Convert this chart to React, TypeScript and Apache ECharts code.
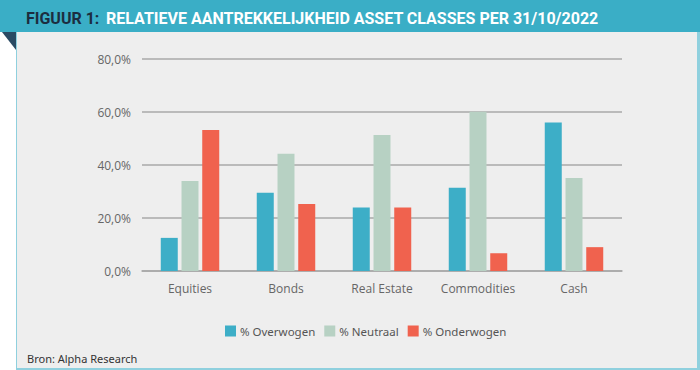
import React, { useEffect, useRef } from "react";
import * as echarts from "echarts";

const categories = ["Equities", "Bonds", "Real Estate", "Commodities", "Cash"];
const seriesNames = ["% Overwogen", "% Neutraal", "% Onderwogen"];
const overwogen = [12.5, 29.5, 24.0, 31.4, 56.0];
const neutraal = [34.0, 44.2, 51.3, 60.1, 35.1];
const onderwogen = [53.2, 25.3, 24.0, 6.7, 9.0];
const colors = ["#3daec7", "#b7d1c3", "#f0624e"];

export default function App() {
  const ref = useRef<HTMLDivElement>(null);
  useEffect(() => {
    if (!ref.current) return;
    const chart = echarts.init(ref.current, undefined, { renderer: "svg" });
    const mk = (name: string, data: number[], color: string) => ({
      name,
      type: "bar",
      data,
      barWidth: 17,
      barGap: "22%",
      itemStyle: { color },
    });
    chart.setOption({
      animation: false,
      backgroundColor: "#ffffff",
      graphic: [
        { type: "rect", shape: { x: 16, y: 32, width: 684, height: 338 }, style: { fill: "#8fd0de" }, z: -10 },
        { type: "rect", shape: { x: 17, y: 32, width: 680, height: 336 }, style: { fill: "#eeeeee" }, z: -9 },
        { type: "rect", shape: { x: 0, y: 0, width: 700, height: 32 }, style: { fill: "#3aaec6" }, z: -8 },
        { type: "polygon", shape: { points: [[2, 32], [16, 32], [16, 50]] }, style: { fill: "#2a4a63" }, z: -8 },
        {
          type: "text",
          x: 26,
          y: 18,
          style: {
            text: "{a|FIGUUR 1:}  {b|RELATIEVE AANTREKKELIJKHEID ASSET CLASSES PER 31/10/2022}",
            verticalAlign: "middle",
            rich: {
              a: { fill: "#1c2d3f", fontFamily: "Roboto", fontWeight: "bold", fontSize: 16 },
              b: { fill: "#ffffff", fontFamily: "Roboto", fontWeight: "bold", fontSize: 16 },
            },
          },
        },
        {
          type: "text",
          x: 27,
          y: 358,
          style: { text: "Bron: Alpha Research", fill: "#333333", fontFamily: "Noto Sans", fontSize: 11, verticalAlign: "middle" },
        },
      ],
      legend: {
        left: 220,
        top: 320,
        itemWidth: 11,
        itemHeight: 11,
        itemGap: 9,
        icon: "rect",
        textStyle: { color: "#555555", fontFamily: "Noto Sans", fontSize: 11.5, padding: [0, 0, 0, -1] },
        data: seriesNames,
      },
      grid: { left: 142, right: 78, top: 59, bottom: 99 },
      xAxis: {
        type: "category",
        data: categories,
        axisLine: { lineStyle: { color: "#a8a8a8", width: 1.5 } },
        axisTick: { show: false },
        axisLabel: { color: "#666666", fontFamily: "Open Sans", fontSize: 12, margin: 11, interval: 0 },
      },
      yAxis: {
        type: "value",
        min: 0,
        max: 80,
        interval: 20,
        axisLine: { show: false },
        axisTick: { show: false },
        splitLine: { lineStyle: { color: "#a8a8a8", width: 1.5 } },
        axisLabel: {
          color: "#666666",
          fontFamily: "Open Sans",
          fontSize: 12,
          margin: 11,
          formatter: (v: number) => v.toFixed(1).replace(".", ",") + "%",
        },
      },
      series: [
        mk(seriesNames[0], overwogen, colors[0]),
        mk(seriesNames[1], neutraal, colors[1]),
        mk(seriesNames[2], onderwogen, colors[2]),
      ],
    });
    return () => chart.dispose();
  }, []);
  return <div ref={ref} style={{ position: "absolute", left: 0, top: 0, width: 700, height: 370 }} />;
}
